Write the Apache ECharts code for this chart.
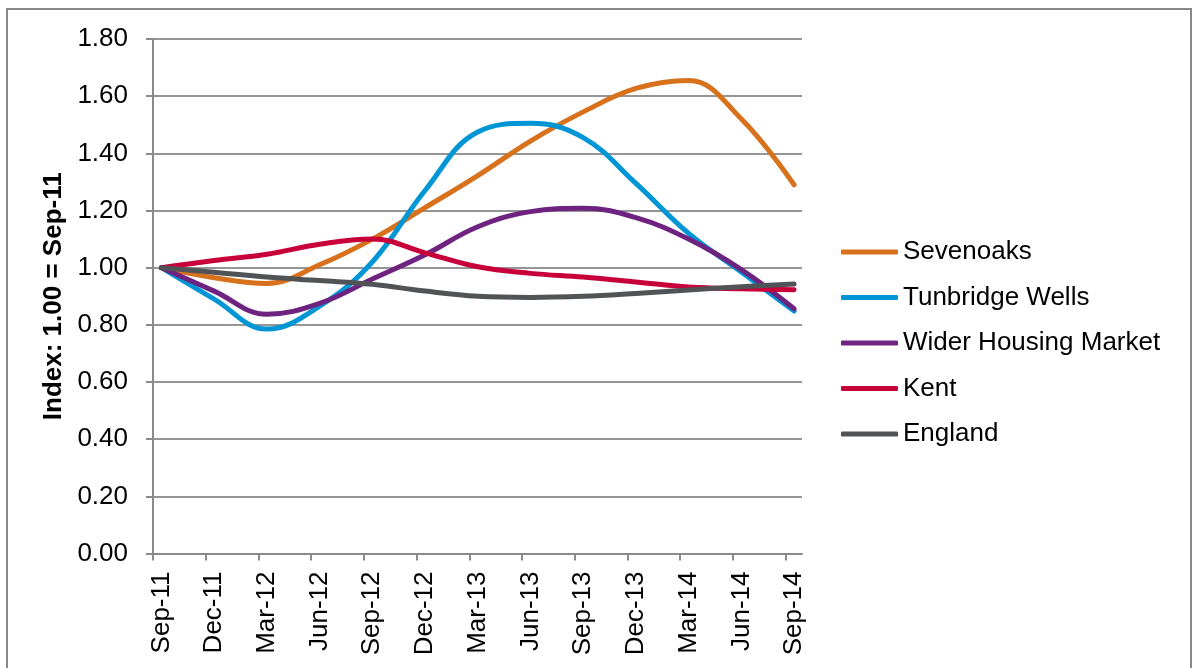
<!DOCTYPE html>
<html>
<head>
<meta charset="utf-8">
<script src="https://cdn.jsdelivr.net/npm/echarts@6/dist/echarts.min.js"></script>
<style>
html,body{margin:0;padding:0;background:#fff;}
#c{width:1196px;height:668px;}
</style>
</head>
<body>
<div id="c"></div>
<script>
const categories = ['Sep-11','Dec-11','Mar-12','Jun-12','Sep-12','Dec-12','Mar-13','Jun-13','Sep-13','Dec-13','Mar-14','Jun-14','Sep-14'];
const seriesNames = ['Sevenoaks','Tunbridge Wells','Wider Housing Market','Kent','England'];
const sevenoaks = [1.00, 0.965, 0.945, 1.01, 1.10, 1.21, 1.322, 1.443, 1.545, 1.627, 1.655, 1.52, 1.29];
const tunbridgeWells = [1.00, 0.89, 0.785, 0.865, 1.02, 1.27, 1.475, 1.505, 1.455, 1.295, 1.12, 0.985, 0.848];
const widerHousingMarket = [1.00, 0.918, 0.837, 0.875, 0.96, 1.045, 1.143, 1.196, 1.208, 1.175, 1.10, 0.993, 0.856];
const kent = [1.00, 1.025, 1.047, 1.082, 1.10, 1.052, 1.003, 0.98, 0.967, 0.95, 0.932, 0.926, 0.923];
const england = [1.00, 0.984, 0.967, 0.955, 0.942, 0.918, 0.90, 0.896, 0.90, 0.91, 0.922, 0.933, 0.943];
const yTicks = [0, 0.2, 0.4, 0.6, 0.8, 1.0, 1.2, 1.4, 1.6, 1.8];
const colors = ['#D7711C', '#0096D6', '#6E2380', '#C8003A', '#515457'];

const allValues = [sevenoaks, tunbridgeWells, widerHousingMarket, kent, england];
const tickOffset = -0.16;
const chart = echarts.init(document.getElementById('c'), null, {renderer: 'canvas'});
const font = 'Liberation Sans, Arial, sans-serif';
chart.setOption({
  animation: false,
  backgroundColor: '#fff',
  graphic: [{
    type: 'rect', shape: {x: 7, y: 9, width: 1184, height: 700},
    style: {fill: 'none', stroke: '#888888', lineWidth: 2}, silent: true
  }],
  grid: {left: 153, top: 39, right: 394, bottom: 114.5, containLabel: false},
  legend: {
    orient: 'vertical', left: 836, top: 232,
    itemWidth: 57, itemHeight: 5, itemGap: 15.5,
    icon: 'roundRect',
    data: seriesNames,
    textStyle: {fontFamily: font, fontSize: 26, color: '#000', lineHeight: 30}
  },
  xAxis: {
    type: 'value', min: tickOffset, max: 12.15,
    axisLine: {show: true, onZero: false, lineStyle: {color: '#8a8a8a', width: 2}},
    axisTick: {show: true, length: 7, lineStyle: {color: '#8a8a8a', width: 2},
      customValues: categories.map((c, i) => i + tickOffset)},
    axisLabel: {
      customValues: categories.map((c, i) => i),
      formatter: v => categories[Math.round(v)],
      rotate: 90, margin: 18, fontFamily: font, fontSize: 26, color: '#000'
    },
    splitLine: {show: false}
  },
  yAxis: {
    type: 'value', min: yTicks[0], max: yTicks[yTicks.length - 1], interval: 0.2,
    name: 'Index: 1.00 = Sep-11', nameLocation: 'middle', nameGap: 73, nameRotate: 90,
    nameTextStyle: {fontFamily: font, fontSize: 26, fontWeight: 'bold', color: '#000'},
    axisLine: {show: true, onZero: false, lineStyle: {color: '#8a8a8a', width: 2}},
    axisTick: {show: true, length: 7, inside: false, lineStyle: {color: '#8a8a8a', width: 2}},
    axisLabel: {formatter: v => v.toFixed(2), margin: 25, fontFamily: font, fontSize: 26, color: '#000'},
    splitLine: {show: true, lineStyle: {color: '#959595', width: 2}}
  },
  series: seriesNames.map((name, s) => ({
    name: name, type: 'line', smooth: 0.4, showSymbol: false, symbol: 'none',
    data: allValues[s].map((v, i) => [i, v]),
    lineStyle: {color: colors[s], width: 5, cap: 'round', join: 'round'},
    itemStyle: {color: colors[s]}
  }))
});
</script>
</body>
</html>
